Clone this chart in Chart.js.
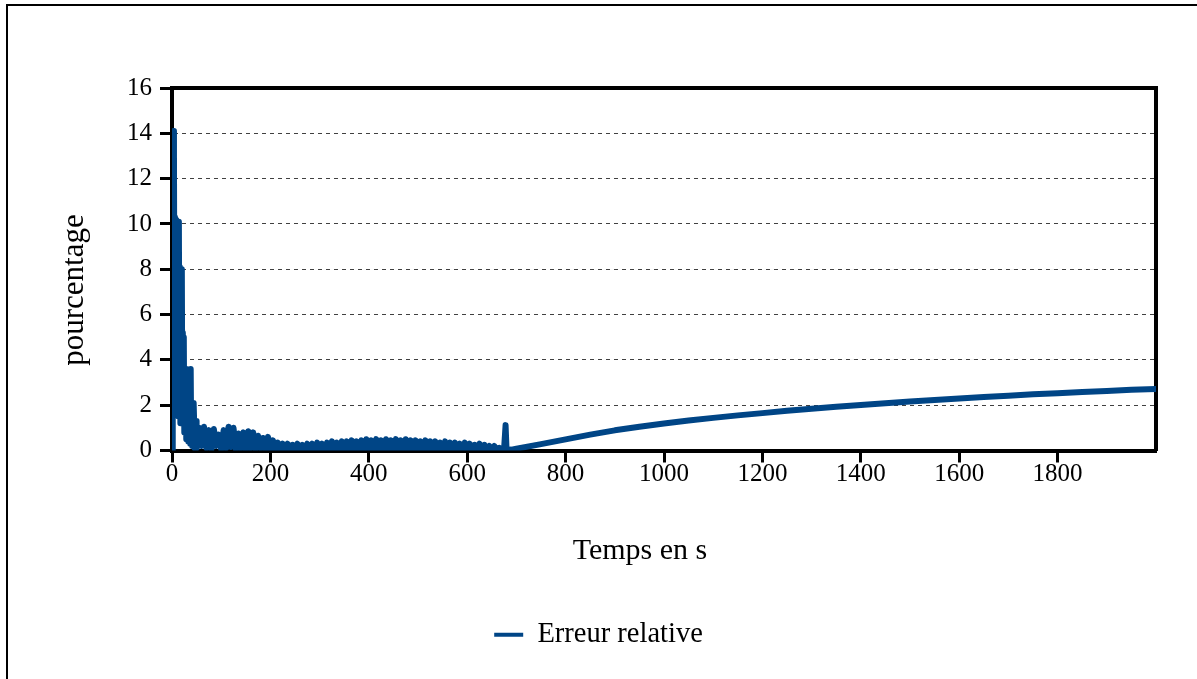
<!DOCTYPE html>
<html lang="fr">
<head>
<meta charset="UTF-8">
<title>Erreur relative</title>
<style>
    html, body {
        margin: 0;
        padding: 0;
        background: #ffffff;
        overflow: hidden;
    }
    #cadre {
        position: absolute;
        left: 6px;
        top: 4px;
        width: 1189px;
        height: 673px;
        border-top: 2px solid #000;
        border-left: 2px solid #000;
    }
    #graphe {
        position: absolute;
        left: 0;
        top: 0;
    }
</style>
</head>
<body>
<div id="cadre"></div>
<canvas id="graphe" width="1197" height="679"></canvas>

<script src="https://cdn.jsdelivr.net/npm/chart.js"></script>
<script>
    // premières secondes (pas de 1 s)
    const tempsDebut = [0, 1, 2, 3, 4, 5, 6, 7, 8, 9,
        10, 11, 12, 13, 14, 15, 16, 17, 18, 19,
        20, 21, 22, 23, 24, 25, 26, 27, 28, 29,
        30, 31, 32, 33, 34, 35, 36, 37, 38, 39,
        40, 41, 42, 43, 44, 45, 46, 47, 48, 49];
    const erreurDebut = [0, 7.0, 11.6, 14.1, 13.0, 4.5, 10.3, 6.0, 10.2, 4.8,
        10.0, 3.0, 9.8, 1.5, 10.1, 2.5, 8.1, 1.2, 7.8, 3.0,
        8.0, 1.5, 5.2, 2.0, 5.0, 0.8, 3.6, 1.0, 3.5, 0.5,
        3.6, 1.2, 3.4, 0.4, 3.5, 0.9, 3.3, 0.3, 3.6, 0.6,
        2.1, 0.2, 2.0, 0.5, 2.1, 1.3, 0.1, 1.2, 0.3, 1.3];

    // zone bruitée de 50 s à 670 s, un relevé toutes les 5 s
    const debutBruit = 50;
    const pasBruit = 5;
    const erreurBruit = [
        0.1, 1.0, 0.2, 1.05, 0.1, 0.9, 0.05, 0.95, 0.2, 0.7,
        0.05, 0.9, 0.1, 1.05, 0.15, 1.0, 0.05, 0.75, 0.1, 0.8,
        0.0, 0.85, 0.1, 0.8, 0.05, 0.65, 0.1, 0.55, 0.0, 0.6,
        0.05, 0.45, 0.0, 0.35, 0.05, 0.3, 0.0, 0.3, 0.02, 0.25,
        0.0, 0.3, 0.05, 0.25, 0.0, 0.3, 0.05, 0.3, 0.02, 0.35,
        0.05, 0.3, 0.0, 0.35, 0.05, 0.4, 0.02, 0.35, 0.05, 0.4,
        0.0, 0.4, 0.05, 0.45, 0.02, 0.4, 0.05, 0.45, 0.0, 0.5,
        0.05, 0.45, 0.02, 0.5, 0.05, 0.45, 0.0, 0.5, 0.05, 0.45,
        0.02, 0.5, 0.05, 0.45, 0.0, 0.5, 0.05, 0.45, 0.02, 0.45,
        0.05, 0.4, 0.0, 0.45, 0.05, 0.4, 0.02, 0.4, 0.05, 0.35,
        0.0, 0.4, 0.05, 0.35, 0.02, 0.35, 0.05, 0.3, 0.0, 0.35,
        0.05, 0.3, 0.02, 0.25, 0.05, 0.3, 0.0, 0.25, 0.05, 0.2,
        0.02, 0.2, 0.05, 0.12, 0.02];

    // pic isolé vers 678 s
    const tempsPic = [675, 678, 680];
    const erreurPic = [0.08, 1.12, 0.02];

    // remontée lente jusqu'à 2000 s
    const tempsRetour = [690, 700, 750, 800, 850, 900, 950, 1000, 1050,
        1100, 1150, 1200, 1250, 1300, 1350, 1400, 1450, 1500, 1550,
        1600, 1650, 1700, 1750, 1800, 1850, 1900, 1950, 2000];
    const erreurRetour = [0.04, 0.08, 0.28, 0.49, 0.7, 0.89, 1.05, 1.19, 1.32,
        1.44, 1.55, 1.65, 1.75, 1.84, 1.93, 2.01, 2.09, 2.16, 2.23,
        2.3, 2.36, 2.42, 2.48, 2.53, 2.58, 2.63, 2.68, 2.72];

    const titreX = 'Temps en s';
    const titreY = 'pourcentage';
    const nomSerie = 'Erreur relative';
    const couleur = '#004586';
    const police = 'Liberation Serif';

    const points = [];
    tempsDebut.forEach((t, i) => points.push({x: t, y: erreurDebut[i]}));
    erreurBruit.forEach((v, i) => points.push({x: debutBruit + i * pasBruit, y: v}));
    tempsPic.forEach((t, i) => points.push({x: t, y: erreurPic[i]}));
    tempsRetour.forEach((t, i) => points.push({x: t, y: erreurRetour[i]}));

    // titres des axes placés comme sur l'original (pas centrés sur la zone de tracé)
    const titresAxes = {
        id: 'titresAxes',
        afterDraw(chart) {
            const ctx = chart.ctx;
            ctx.save();
            ctx.fillStyle = '#000';
            ctx.textAlign = 'center';
            ctx.textBaseline = 'middle';
            ctx.font = '30px "' + police + '"';
            ctx.fillText(titreX, 640, 551);
            ctx.font = '31px "' + police + '"';
            ctx.translate(75, 290);
            ctx.rotate(-Math.PI / 2);
            ctx.fillText(titreY, 0, 0);
            ctx.restore();
        }
    };

    new Chart(document.getElementById('graphe'), {
        type: 'line',
        data: {
            datasets: [{
                label: nomSerie,
                data: points,
                borderColor: couleur,
                backgroundColor: couleur,
                borderWidth: 6,
                borderJoinStyle: 'round',
                borderCapStyle: 'round',
                pointRadius: 0,
                tension: 0,
                fill: false
            }]
        },
        options: {
            responsive: false,
            animation: false,
            events: [],
            layout: {
                padding: {left: 0, top: 88, right: 0, bottom: 20}
            },
            plugins: {
                tooltip: {enabled: false},
                legend: {
                    position: 'bottom',
                    labels: {
                        boxWidth: 29,
                        boxHeight: 4,
                        padding: 10,
                        color: '#000',
                        font: {family: police, size: 28.5},
                        generateLabels(chart) {
                            const items = Chart.defaults.plugins.legend.labels.generateLabels(chart);
                            items.forEach(it => { it.lineWidth = 0; it.fillStyle = couleur; });
                            return items;
                        }
                    }
                }
            },
            scales: {
                x: {
                    type: 'linear',
                    position: 'bottom',
                    min: 0,
                    max: 2000,
                    z: 1,
                    afterBuildTicks: s => { s.ticks = s.ticks.filter(t => t.value < 2000); },
                    afterFit: s => { s.height = 160; },
                    ticks: {
                        stepSize: 200,
                        padding: -1,
                        color: '#000',
                        font: {family: police, size: 25, lineHeight: 1},
                        callback: v => String(v)
                    },
                    grid: {
                        drawOnChartArea: false,
                        tickLength: 12,
                        tickWidth: 3,
                        tickColor: '#000'
                    },
                    border: {color: '#000', width: 4}
                },
                y: {
                    position: 'left',
                    min: 0,
                    max: 16,
                    afterFit: s => { s.width = 172; },
                    ticks: {
                        stepSize: 2,
                        padding: 8,
                        color: '#000',
                        font: {family: police, size: 25}
                    },
                    grid: {
                        color: '#404040',
                        lineWidth: 1,
                        tickLength: 12,
                        tickWidth: 3,
                        tickColor: '#000'
                    },
                    border: {color: '#000', width: 4, dash: [4, 4]}
                },
                x2: {
                    type: 'linear',
                    position: 'top',
                    min: 0,
                    max: 2000,
                    afterFit: s => { s.height = 0; },
                    ticks: {display: false},
                    grid: {display: false, drawTicks: false},
                    border: {color: '#000', width: 4}
                },
                y2: {
                    type: 'linear',
                    position: 'right',
                    min: 0,
                    max: 16,
                    afterFit: s => { s.width = 41; },
                    ticks: {display: false},
                    grid: {display: false, drawTicks: false},
                    border: {color: '#000', width: 4}
                }
            }
        },
        plugins: [titresAxes]
    });
</script>
</body>
</html>
